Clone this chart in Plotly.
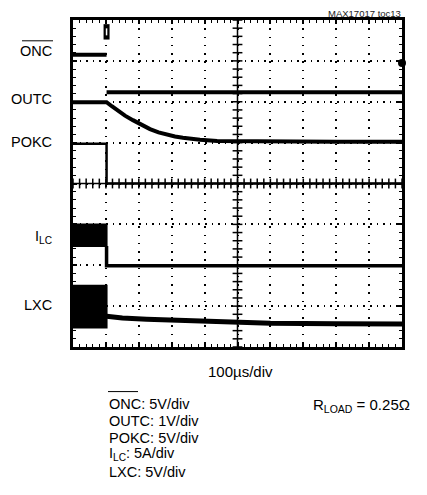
import numpy as np
import plotly.graph_objects as go

# ---- data (x in divisions of 100us, y in vertical divisions) ----
edge = 1.02
onc_t = [0, edge, None, edge, 10]
onc_v = [7.15, 7.15, None, 6.23, 6.23]

outc_t = [0, 1.02, 1.18, 1.34, 1.58, 1.82, 2.08, 2.34, 2.60, 2.86, 3.10, 3.34, 3.60, 3.86, 4.38, 5.2, 6.5, 8.0, 10]
outc_v = [5.99, 5.99, 5.89, 5.79, 5.66, 5.55, 5.43, 5.33, 5.25, 5.19, 5.15, 5.12, 5.09, 5.07, 5.04, 5.03, 5.02, 5.02, 5.02]

pokc_t = [0, edge, edge, 10]
pokc_v = [4.97, 4.97, 4.0, 4.0]

ilc_band_t = [0, edge, edge, 0]
ilc_band_v = [3.0, 3.0, 2.47, 2.47]
ilc_t = [edge, edge, 10]
ilc_v = [2.47, 1.99, 1.99]

lxc_band_t = [0, edge, edge, 0]
lxc_band_v = [1.5, 1.5, 0.48, 0.48]
lxc_t = [edge, 1.5, 2.24, 3.0, 3.86, 5.0, 6.0, 8.0, 10]
lxc_v = [0.75, 0.71, 0.68, 0.655, 0.63, 0.60, 0.58, 0.57, 0.56]

trig_t, trig_v = [edge], [7.71]
gnd_t, gnd_v = [10], [6.95]

labels = ["ONC", "OUTC", "POKC", "I<sub>LC</sub>", "LXC"]
label_y = [7.23, 6.06, 5.02, 2.69, 1.02]
scale_lines = ["ONC: 5V/div", "OUTC: 1V/div", "POKC: 5V/div",
               "I<sub>LC</sub>: 5A/div", "LXC: 5V/div"]
scale_line_py = [405, 422, 439, 455, 473]

FONT = "Liberation Sans"
OFF = 8  # page body margin
W, H = 427 - OFF, 495 - OFF
L, T, PW, PH = 73 - OFF, 17 - OFF, 329, 330

def px(x):
    return (x - OFF - L) / PW

def py(y):
    return (T + PH - (y - OFF)) / PH

fig = go.Figure()

# graticule centre lines with ticks
fig.add_shape(type="line", x0=5, x1=5, y0=0, y1=8, xref="x", yref="y",
              line=dict(color="black", width=1.5), layer="below")
fig.add_shape(type="line", x0=0, x1=10, y0=4, y1=4, xref="x", yref="y",
              line=dict(color="black", width=1.5), layer="below")
fig.add_trace(go.Scatter(x=np.full(41, 5.0), y=np.arange(41) * 0.2, mode="markers",
                         marker=dict(symbol="line-ew", size=7, color="black",
                                     line=dict(color="black", width=1.5)),
                         hoverinfo="skip", showlegend=False))
fig.add_trace(go.Scatter(x=np.arange(51) * 0.2, y=np.full(51, 4.0), mode="markers",
                         marker=dict(symbol="line-ns", size=7, color="black",
                                     line=dict(color="black", width=1.5)),
                         hoverinfo="skip", showlegend=False))

fig.add_trace(go.Scatter(x=onc_t, y=onc_v, mode="lines", line=dict(color="black", width=4),
                         showlegend=False))
fig.add_trace(go.Scatter(x=outc_t, y=outc_v, mode="lines", line=dict(color="black", width=4),
                         showlegend=False))
fig.add_trace(go.Scatter(x=pokc_t, y=pokc_v, mode="lines", line=dict(color="black", width=2.5),
                         showlegend=False))
fig.add_trace(go.Scatter(x=ilc_band_t, y=ilc_band_v, mode="lines", fill="toself",
                         fillcolor="black", line=dict(color="black", width=2), showlegend=False))
fig.add_trace(go.Scatter(x=ilc_t, y=ilc_v, mode="lines", line=dict(color="black", width=3.5),
                         showlegend=False))
fig.add_trace(go.Scatter(x=lxc_band_t, y=lxc_band_v, mode="lines", fill="toself",
                         fillcolor="black", line=dict(color="black", width=2), showlegend=False))
fig.add_trace(go.Scatter(x=lxc_t, y=lxc_v, mode="lines", line=dict(color="black", width=5),
                         showlegend=False))

# trigger and ground markers
fig.add_trace(go.Scatter(x=trig_t, y=trig_v, mode="markers", cliponaxis=False,
                         marker=dict(symbol="line-ns-open", size=11, color="black",
                                     line=dict(color="black", width=6)),
                         showlegend=False))
fig.add_trace(go.Scatter(x=trig_t, y=trig_v, mode="markers", cliponaxis=False,
                         marker=dict(symbol="line-ns-open", size=5, color="white",
                                     line=dict(color="white", width=1.5)),
                         showlegend=False))
fig.add_trace(go.Scatter(x=gnd_t, y=gnd_v, mode="markers", cliponaxis=False,
                         marker=dict(symbol="circle", size=8, color="black"),
                         showlegend=False))

ann = []
for lab, yv in zip(labels, label_y):
    ann.append(dict(text=lab, x=px(54), xref="paper", y=yv, yref="y", xanchor="right",
                    yanchor="middle", showarrow=False, font=dict(family=FONT, size=14.5, color="black")))

ann.append(dict(text="MAX17017 toc13", x=px(403), xref="paper", y=py(10), yref="paper",
                xanchor="right", yanchor="middle", showarrow=False,
                font=dict(family=FONT, size=9.5, color="#222")))
ann.append(dict(text="100µs/div", x=px(240), xref="paper", y=py(372), yref="paper",
                xanchor="center", yanchor="middle", showarrow=False,
                font=dict(family=FONT, size=15, color="black")))
for s, yp in zip(scale_lines, scale_line_py):
    ann.append(dict(text=s, x=px(107), xref="paper", y=py(yp), yref="paper",
                    xanchor="left", yanchor="middle", showarrow=False,
                    font=dict(family=FONT, size=14.5, color="black")))
ann.append(dict(text="R<sub>LOAD</sub> = 0.25Ω", x=px(311), xref="paper", y=py(406), yref="paper",
                xanchor="left", yanchor="middle", showarrow=False,
                font=dict(family=FONT, size=15, color="black")))

# overlines for ONC
fig.add_shape(type="line", xref="paper", yref="paper", x0=px(22), x1=px(53), y0=py(38), y1=py(38),
              line=dict(color="black", width=1))
fig.add_shape(type="line", xref="paper", yref="paper", x0=px(108), x1=px(138), y0=py(392), y1=py(392),
              line=dict(color="black", width=1))

axis_common = dict(showline=True, linewidth=3, linecolor="black", mirror="allticks",
                   ticks="inside", ticklen=4, tickcolor="black", tickwidth=1.5,
                   showticklabels=False, zeroline=False, showgrid=True,
                   gridcolor="black", gridwidth=1.5, dtick=1, tick0=0,
                   minor=dict(dtick=0.2, ticks="inside", ticklen=3, tickcolor="black", tickwidth=1.2,
                              showgrid=False))
fig.update_xaxes(range=[0, 10], griddash="1.5px,6.75px", **axis_common)
fig.update_yaxes(range=[0, 8], griddash="1.5px,5.1px", **axis_common)

fig.update_layout(width=W, height=H, margin=dict(l=L, r=W - L - PW, t=T, b=H - T - PH),
                  paper_bgcolor="white", plot_bgcolor="white", annotations=ann,
                  font=dict(family=FONT))

fig.write_html("out.html")
